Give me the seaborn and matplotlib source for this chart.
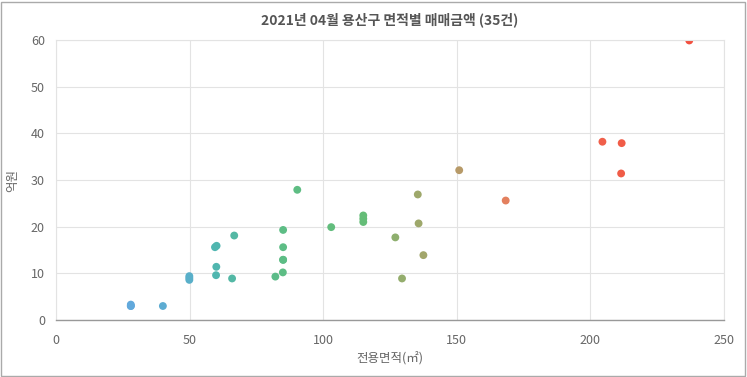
import matplotlib
matplotlib.use("Agg")
import matplotlib.pyplot as plt
import seaborn as sns
import pandas as pd
from matplotlib.colors import LinearSegmentedColormap
from matplotlib.patches import Rectangle

area = [28.0, 28.0, 28.0, 40.0, 49.9, 49.9, 49.9, 59.5, 60.1, 60.0, 59.9,
        66.7, 65.9, 82.1, 84.9, 85.0, 85.0, 85.0, 85.0, 90.3, 103.0,
        115.0, 115.0, 115.0, 127.0, 129.5, 135.4, 135.7, 137.5,
        150.9, 168.3, 204.5, 211.7, 211.5, 237.0]
price = [3.3, 3.0, 3.0, 3.0, 9.4, 9.0, 8.6, 15.6, 15.9, 11.4, 9.6,
         18.1, 8.9, 9.3, 10.2, 12.9, 12.9, 15.6, 19.3, 27.9, 19.9,
         22.4, 21.7, 21.0, 17.7, 8.9, 26.9, 20.7, 13.9,
         32.1, 25.6, 38.2, 37.9, 31.4, 59.9]
x_ticks = [0, 50, 100, 150, 200, 250]
y_ticks = [0, 10, 20, 30, 40, 50, 60]
title = "2021년 04월 용산구 면적별 매매금액 (35건)"
x_label = "전용면적(㎡)"
y_label = "억원"

df = pd.DataFrame({"area": area, "price": price})

sns.set_theme(style="white")
plt.rcParams["font.family"] = ["Noto Sans CJK KR", "DejaVu Sans"]

cmap = LinearSegmentedColormap.from_list(
    "grad",
    [(0.0, "#62a9dc"), (0.11, "#58b0c8"), (0.15, "#50b6b0"), (0.27, "#5dbd85"),
     (0.42, "#65bd78"), (0.48, "#92ae6d"), (0.59, "#b89a68"), (0.67, "#e3805e"),
     (0.84, "#f0604a"), (1.0, "#f2503f")])

fig = plt.figure(figsize=(7.47, 3.77), dpi=100)
ax = fig.add_axes([56/747, 1-320/377, (724-56)/747, 280/377])

sns.scatterplot(data=df, x="area", y="price", hue="area", palette=cmap,
                hue_norm=(28, 237), legend=False, s=32, linewidth=0, ax=ax)

ax.set_xlim(0, 250)
ax.set_ylim(0, 60)
ax.set_xticks(x_ticks)
ax.set_yticks(y_ticks)
ax.grid(True, color="#e3e3e3", linewidth=0.8)
ax.set_axisbelow(True)
for side in ["top", "right", "left"]:
    ax.spines[side].set_color("#e3e3e3")
    ax.spines[side].set_linewidth(0.8)
ax.spines["bottom"].set_color("#999999")
ax.spines["bottom"].set_linewidth(1.0)
ax.tick_params(axis="both", length=5, width=0.8, color="#e3e3e3",
               labelsize=9, labelcolor="#666666", pad=3)
ax.tick_params(axis="x", pad=5)
ax.set_xlabel(x_label, fontsize=9, color="#666666", labelpad=4)
ax.set_ylabel("")
fig.text(13/747, 1-180/377, y_label, rotation=90, ha="center", va="center",
         fontsize=9, color="#666666")
fig.text(390/747, 1-20/377, title, ha="center", va="center",
         fontsize=10, fontweight="bold", color="#555555")

fig.patches.append(Rectangle((1/747, 1/377), 744/747, 374/377,
                             transform=fig.transFigure, fill=False,
                             edgecolor="#aaaaaa", linewidth=1.0))

fig.savefig("out.png", dpi=100)
